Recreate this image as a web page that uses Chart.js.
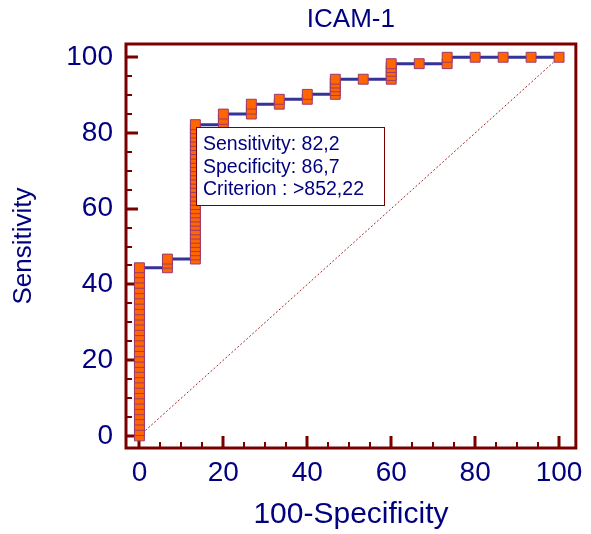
<!DOCTYPE html>
<html>
<head>
<meta charset="utf-8">
<script src="https://cdn.jsdelivr.net/npm/chart.js@4/dist/chart.umd.min.js"></script>
<style>
  html, body { margin: 0; padding: 0; background: #fff; }
  #wrap { width: 591px; height: 534px; }
</style>
</head>
<body>
<div id="wrap"><canvas id="roc"></canvas></div>
<script>
// ROC curve - ICAM-1

// 100-Specificity of each step column
const colX = [0, 6.67, 13.33, 20, 26.67, 33.33, 40, 46.67, 53.33, 60, 66.67, 73.33, 80, 86.67, 93.33, 100];

// sensitivity markers per column
const col0 = [0, 1.4, 2.8, 4.2, 5.6, 6.9, 8.3, 9.7, 11.1, 12.5, 13.9, 15.3, 16.7, 18.1, 19.4, 20.8, 22.2,
              23.6, 25, 26.4, 27.8, 29.2, 30.6, 31.9, 33.3, 34.7, 36.1, 37.5, 38.9, 40.3, 41.7, 43.1, 44.4];
const col1 = [44.4, 45.6, 46.7];
const col2 = [46.7, 47.8, 48.9, 50, 51.1, 52.2, 53.3, 54.4, 55.6, 56.7, 57.8, 58.9, 60, 61.1, 62.2, 63.3, 64.4,
              65.6, 66.7, 67.8, 68.9, 70, 71.1, 72.2, 73.3, 74.4, 75.6, 76.7, 77.8, 78.9, 80, 81.1, 82.2];
const col3 = [82.2, 83.6, 85];
const col4 = [85, 86.3, 87.6];
const col5 = [87.6, 88.9];
const col6 = [88.9, 90.2];
const col7 = [90.2, 91.2, 92.2, 93.2, 94.2];
const col8 = [94.2];
const col9 = [94.2, 95.2, 96.3, 97.3, 98.3];
const col10 = [98.3];
const col11 = [98.3, 100];
const col12 = [100];
const col13 = [100];
const col14 = [100];
const col15 = [100];
const colY = [col0, col1, col2, col3, col4, col5, col6, col7, col8, col9, col10, col11, col12, col13, col14, col15];

const xTicks = [0, 20, 40, 60, 80, 100];
const yTicks = [0, 20, 40, 60, 80, 100];
const minorStep = 5;

const criterion = { x: 13.33, y: 82.2 };
const boxLines = ['Sensitivity: 82,2', 'Specificity: 86,7', 'Criterion : >852,22'];

const NAVY = '#000080';
const MAROON = '#7a0000';
const FONT = "'Liberation Sans', Arial, sans-serif";

// build datasets from the arrays
const markerPts = [];
const stepPts = [];
colX.forEach((x, i) => {
    const ys = colY[i];
    ys.forEach(y => markerPts.push({ x: x, y: y }));
    stepPts.push({ x: x, y: ys[0] });
    if (ys.length > 1) stepPts.push({ x: x, y: ys[ys.length - 1] });
});

// frame + inner ticks + criterion box
const framePlugin = {
    id: 'frame',
    beforeDatasetsDraw(chart) {
        const { ctx, chartArea: a, scales: { x, y } } = chart;
        ctx.save();
        ctx.strokeStyle = MAROON;
        ctx.lineCap = 'butt';
        for (let v = 0; v <= 100; v += minorStep) {
            const major = v % 20 === 0;
            ctx.lineWidth = major ? 3 : 2;
            const len = major ? 12 : 6;
            const px = Math.round(x.getPixelForValue(v));
            ctx.beginPath();
            ctx.moveTo(px, a.bottom);
            ctx.lineTo(px, a.bottom - len);
            ctx.stroke();
            const py = Math.round(y.getPixelForValue(v));
            ctx.beginPath();
            ctx.moveTo(a.left, py);
            ctx.lineTo(a.left + len, py);
            ctx.stroke();
        }
        ctx.lineWidth = 3;
        ctx.strokeRect(a.left, a.top, a.right - a.left, a.bottom - a.top);
        ctx.restore();
    },
    afterDatasetsDraw(chart) {
        const { ctx, scales: { x, y } } = chart;
        const bx = Math.round(x.getPixelForValue(criterion.x)) + 1;
        const by = Math.round(y.getPixelForValue(criterion.y)) + 2;
        ctx.save();
        ctx.fillStyle = '#fff';
        ctx.fillRect(bx, by, 188, 78);
        ctx.strokeStyle = MAROON;
        ctx.lineWidth = 1;
        ctx.strokeRect(bx + 0.5, by + 0.5, 188, 78);
        ctx.fillStyle = NAVY;
        ctx.font = '19.5px ' + FONT;
        ctx.textBaseline = 'middle';
        boxLines.forEach((t, i) => ctx.fillText(t, bx + 7, by + 18 + i * 22.5));
        ctx.restore();
    }
};

new Chart(document.getElementById('roc'), {
    type: 'scatter',
    data: {
        datasets: [
            {
                label: 'Markers',
                data: markerPts,
                showLine: false,
                pointStyle: 'rect',
                pointRadius: 7,
                backgroundColor: '#ff6600',
                borderColor: '#9a3a6e',
                borderWidth: 1,
                order: 0
            },
            {
                label: 'ROC',
                data: stepPts,
                showLine: true,
                borderColor: '#333399',
                borderWidth: 3,
                pointRadius: 0,
                fill: false,
                order: 1
            },
            {
                label: 'Diagonal',
                data: [{ x: 0, y: 0 }, { x: 100, y: 100 }],
                showLine: true,
                borderColor: '#a02828',
                borderWidth: 1,
                borderDash: [2, 2],
                pointRadius: 0,
                fill: false,
                order: 2
            }
        ]
    },
    options: {
        responsive: true,
        maintainAspectRatio: false,
        animation: false,
        layout: { padding: { left: 0, right: 11, top: 0, bottom: 0 } },
        plugins: {
            legend: { display: false },
            tooltip: { enabled: false },
            title: {
                display: true,
                text: 'ICAM-1',
                color: NAVY,
                fullSize: false,
                font: { family: FONT, size: 26, weight: 'normal' },
                padding: { top: 4, bottom: 8.8 }
            }
        },
        scales: {
            x: {
                type: 'linear',
                min: -3.2,
                max: 104,
                afterBuildTicks: axis => { axis.ticks = xTicks.map(v => ({ value: v })); },
                afterFit: scale => { scale.height = 86; },
                grid: { display: false, drawTicks: false },
                border: { display: false },
                ticks: { color: NAVY, font: { family: FONT, size: 28 }, padding: 8, maxRotation: 0, autoSkip: false },
                title: {
                    display: true,
                    text: '100-Specificity',
                    color: NAVY,
                    font: { family: FONT, size: 30 },
                    padding: { top: 0, bottom: 1 }
                }
            },
            y: {
                type: 'linear',
                min: -3.2,
                max: 103.5,
                afterBuildTicks: axis => { axis.ticks = yTicks.map(v => ({ value: v })); },
                afterFit: scale => { scale.width = 126; },
                grid: { display: false, drawTicks: false },
                border: { display: false },
                ticks: { color: NAVY, font: { family: FONT, size: 28 }, padding: 13, autoSkip: false },
                title: {
                    display: true,
                    text: 'Sensitivity',
                    color: NAVY,
                    font: { family: FONT, size: 26 },
                    padding: { top: 8, bottom: 0 }
                }
            }
        }
    },
    plugins: [framePlugin]
});
</script>
</body>
</html>
